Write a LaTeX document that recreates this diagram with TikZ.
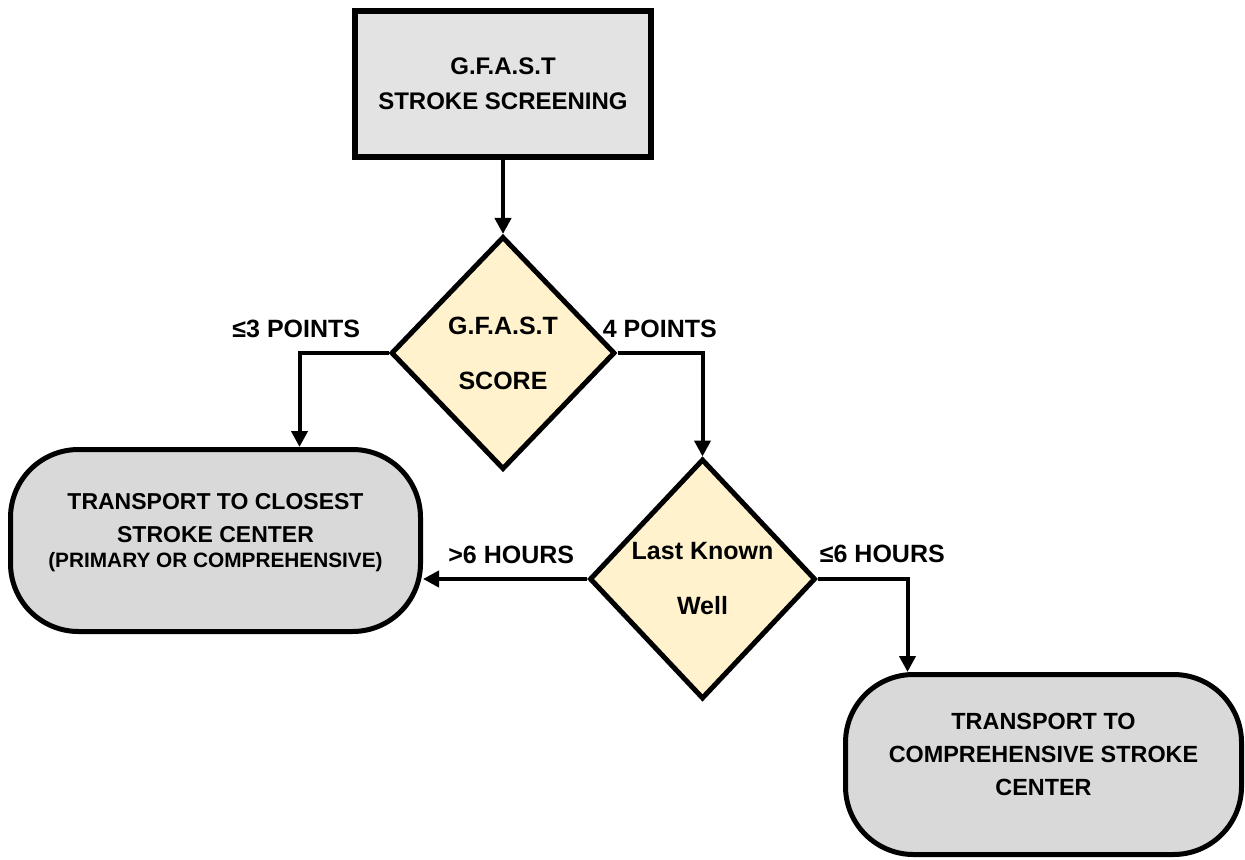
\documentclass[tikz,border=0pt]{standalone}
\usepackage{fontspec}
\setmainfont{Liberation Sans}
\usepackage{tikz}
\usetikzlibrary{shapes.geometric, arrows.meta}

\definecolor{screengray}{HTML}{E3E3E3}
\definecolor{endgray}{HTML}{D9D9D9}
\definecolor{choiceyellow}{HTML}{FFF2CC}

\begin{document}
\begin{tikzpicture}[x=0.5pt, y=-0.5pt, >={Triangle[width=8pt, length=8pt]},
                    screenbox/.style={draw, line width=3.2pt, fill=screengray, minimum width=148pt, minimum height=73pt,
                        align=center, font=\bfseries\fontsize{12}{17.5}\selectfont},
                    choice/.style={diamond, draw, line width=2.5pt, fill=choiceyellow, inner sep=0pt,
                        align=center, font=\bfseries\fontsize{12.5}{27.5}\selectfont},
                    endbox/.style={draw, line width=2.5pt, fill=endgray, rounded corners=34pt, text depth=10pt, align=center},
                    lbl/.style={inner sep=0pt, font=\bfseries\fontsize{12.5}{15}\selectfont},
                    link/.style={->, line width=2pt}]
                    \useasboundingbox (0, 0) rectangle (1245, 860);
                    \node[screenbox] (screen) at (503, 84) {G.F.A.S.T\\STROKE SCREENING};
                    \node[choice, minimum width=112pt, minimum height=116.5pt] (score) at (503, 353) {G.F.A.S.T\\SCORE};
                    \node[choice, minimum width=113pt, minimum height=120pt] (lkw) at (702.5, 579) {Last Known\\Well};
                    \node[endbox, minimum width=205pt, minimum height=91pt, font=\bfseries\fontsize{11.5}{16.5}\selectfont] (closest) at (215.5, 540.5)
                        {TRANSPORT TO CLOSEST\\STROKE CENTER\\[-4pt]{\fontsize{10.4}{12.5}\selectfont (PRIMARY OR COMPREHENSIVE)}};
                    \node[endbox, minimum width=198pt, minimum height=90pt, font=\bfseries\fontsize{11.7}{16.5}\selectfont] (comp) at (1043.5, 764.5)
                        {TRANSPORT TO\\COMPREHENSIVE STROKE\\CENTER};
                    \draw[link] (screen) -- (score);
                    \draw[link] (score.west) -| ([xshift=42pt]closest.north);
                    \draw[link] (score.east) -| (lkw.north);
                    \draw[link] (lkw.west) -- (lkw.west -| closest.east);
                    \draw[link] (lkw.east) -| ([xshift=-68pt]comp.north);
                    \node[lbl, anchor=base east] (lowpts) at ([xshift=-14pt, yshift=7.5pt]score.west) {≤3 POINTS};
                    \node[lbl, anchor=base west] (fourpts) at ([xshift=-7.5pt, yshift=7.5pt]score.east) {4 POINTS};
                    \node[lbl, anchor=base east] (late) at ([xshift=-6.25pt, yshift=8pt]lkw.west) {>6 HOURS};
                    \node[lbl, anchor=base west] (early) at ([xshift=0.75pt, yshift=8.5pt]lkw.east) {≤6 HOURS};
                \end{tikzpicture}
\end{document}
